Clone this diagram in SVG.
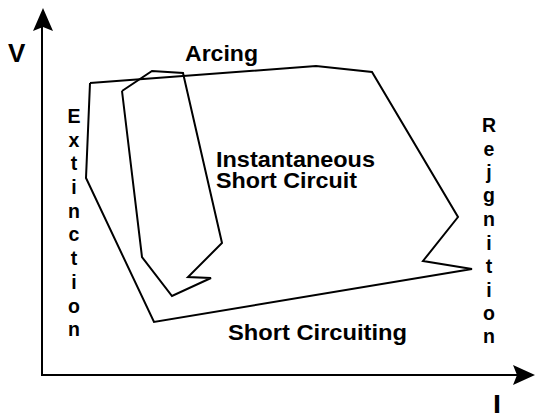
<svg xmlns="http://www.w3.org/2000/svg" width="535" height="419" viewBox="0 0 535 419">
<style>
.ln{fill:none;stroke:#000;stroke-width:2;stroke-linejoin:miter}
.t{font-family:"Liberation Sans",Arial,sans-serif;font-weight:bold;fill:#000}
.big{font-size:22px}
.v{font-size:19.5px;text-anchor:middle}
</style>
<rect width="535" height="419" fill="#fff"/>
<g id="axes">
<line class="ln" x1="42" y1="376" x2="42" y2="24"/>
<line class="ln" x1="41" y1="375" x2="520" y2="375"/>
<path d="M43,8 L53,31 L43,27 L33,31 Z" fill="#000"/>
<path d="M535,375 L513,385 L517,375 L513,365 Z" fill="#000"/>
</g>
<g id="connectors">
<polyline id="outer" class="ln" points="90,83 316,66 372,72 458,217 423,261 472,269 154,322 86,178 90,83"/>
<polyline id="inner" class="ln" points="122,91 152,71 183,73 222,243 188,277 211,278 172,296 142,257 122,91"/>
</g>
<g id="labels">
<text class="t" x="8" y="62" font-size="26">V</text>
<text class="t" x="493" y="413" font-size="25" textLength="8" lengthAdjust="spacingAndGlyphs">I</text>
<text class="t big" x="185" y="61" textLength="73" lengthAdjust="spacingAndGlyphs">Arcing</text>
<text class="t big" x="216" y="167" textLength="159" lengthAdjust="spacingAndGlyphs">Instantaneous</text>
<text class="t big" x="216" y="188" textLength="141" lengthAdjust="spacingAndGlyphs">Short Circuit</text>
<text class="t big" x="228" y="340" textLength="179" lengthAdjust="spacingAndGlyphs">Short Circuiting</text>
<text class="t v" x="74"><tspan x="74" y="123">E</tspan><tspan x="74" y="147">x</tspan><tspan x="74" y="170">t</tspan><tspan x="74" y="194">i</tspan><tspan x="74" y="218">n</tspan><tspan x="74" y="241">c</tspan><tspan x="74" y="265">t</tspan><tspan x="74" y="289">i</tspan><tspan x="74" y="313">o</tspan><tspan x="74" y="336">n</tspan></text>
<text class="t v" x="489"><tspan x="489" y="132">R</tspan><tspan x="489" y="156">e</tspan><tspan x="489" y="179">j</tspan><tspan x="489" y="202">g</tspan><tspan x="489" y="226">n</tspan><tspan x="489" y="250">i</tspan><tspan x="489" y="273">t</tspan><tspan x="489" y="297">i</tspan><tspan x="489" y="320">o</tspan><tspan x="489" y="343">n</tspan></text>
</g>
</svg>
